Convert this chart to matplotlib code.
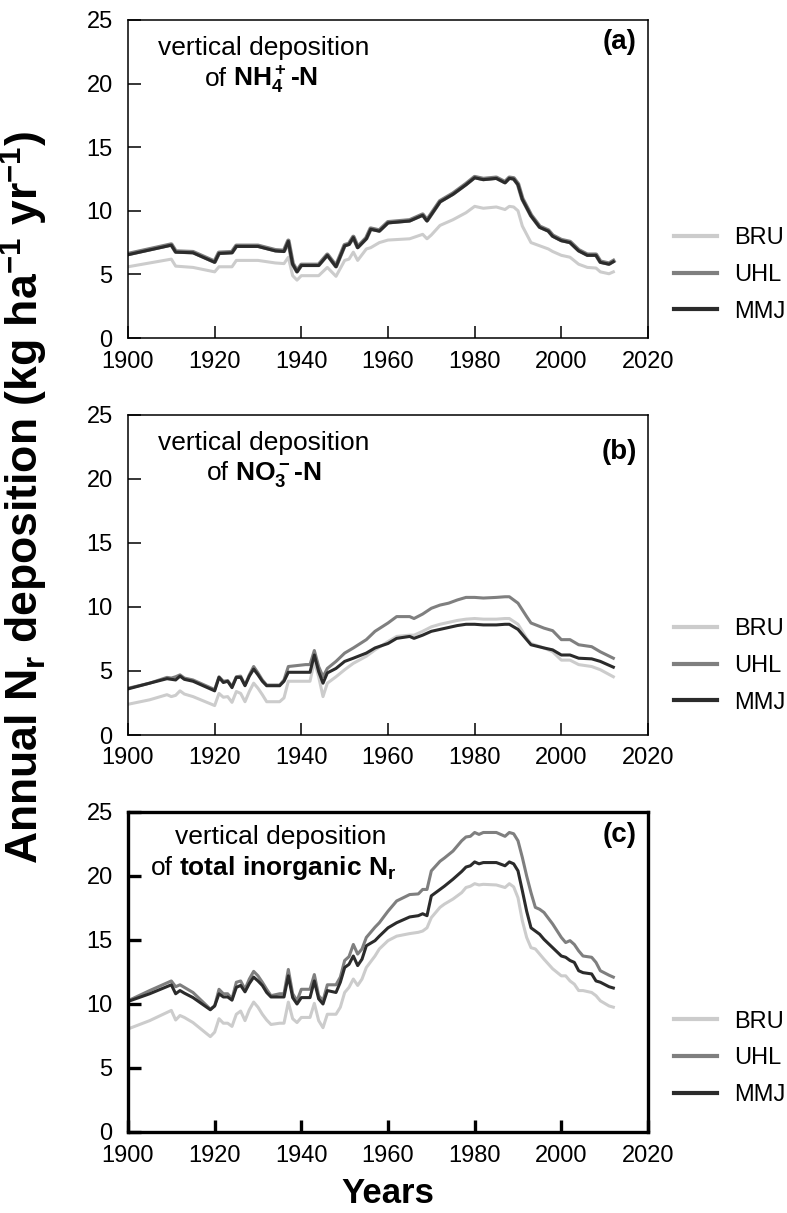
import matplotlib
matplotlib.use("Agg")
import matplotlib.pyplot as plt
import matplotlib.transforms as mtransforms

plt.rcParams['font.family'] = ['Liberation Sans', 'DejaVu Sans']
plt.rcParams['mathtext.default'] = 'regular'

# ---------------- data ----------------
series_names = ["BRU", "UHL", "MMJ"]
colors = ["#cccccc", "#7f7f7f", "#2b2b2b"]

years_a = [1900, 1910, 1911, 1915, 1920, 1921, 1924, 1925, 1930, 1934, 1936, 1937, 1938, 1939, 1940,
           1944, 1946, 1948, 1950, 1951, 1952, 1953, 1955, 1956, 1958, 1960, 1965, 1968, 1969, 1970,
           1972, 1975, 1978, 1980, 1982, 1985, 1987, 1988, 1989, 1990, 1991, 1993, 1995, 1997, 1998,
           2000, 2002, 2004, 2006, 2008, 2009, 2011, 2012]
mmj_a = [6.55, 7.3, 6.75, 6.7, 5.95, 6.65, 6.7, 7.2, 7.2, 6.85, 6.8, 7.6, 5.8, 5.2, 5.7,
         5.7, 6.5, 5.6, 7.25, 7.35, 7.9, 7.1, 7.8, 8.55, 8.4, 9.05, 9.2, 9.65, 9.2, 9.7,
         10.7, 11.3, 12.05, 12.6, 12.45, 12.55, 12.2, 12.55, 12.5, 12.05, 10.9, 9.6, 8.7, 8.4, 8.0,
         7.65, 7.5, 6.85, 6.5, 6.5, 5.95, 5.8, 6.0]
uhl_a = [6.6, 7.35, 6.8, 6.75, 6.0, 6.7, 6.75, 7.25, 7.25, 6.9, 6.85, 7.65, 5.85, 5.25, 5.75,
         5.75, 6.55, 5.65, 7.3, 7.4, 7.95, 7.15, 7.85, 8.6, 8.45, 9.1, 9.25, 9.7, 9.25, 9.75,
         10.75, 11.35, 12.1, 12.65, 12.5, 12.6, 12.25, 12.6, 12.55, 12.1, 10.95, 9.65, 8.75, 8.45, 8.05,
         7.7, 7.55, 6.9, 6.55, 6.55, 6.0, 5.85, 6.05]
bru_a = [5.6, 6.2, 5.65, 5.55, 5.2, 5.6, 5.6, 6.1, 6.1, 5.9, 5.85, 6.35, 4.9, 4.55, 4.9,
         4.9, 5.55, 4.85, 6.1, 6.2, 6.75, 6.1, 7.0, 7.1, 7.5, 7.7, 7.8, 8.15, 7.8, 8.1,
         8.85, 9.3, 9.85, 10.35, 10.2, 10.3, 10.1, 10.35, 10.3, 10.0, 8.8, 7.5, 7.25, 7.0, 6.8,
         6.5, 6.35, 5.8, 5.55, 5.5, 5.2, 5.05, 5.2]

years_b = [1900, 1905, 1909, 1910, 1911, 1912, 1913, 1915, 1920, 1921, 1922, 1923, 1924, 1925, 1926,
           1927, 1928, 1929, 1930, 1931, 1932, 1935, 1936, 1937, 1941, 1942, 1943, 1944, 1945, 1946,
           1948, 1950, 1952, 1955, 1957, 1960, 1962, 1965, 1966, 1968, 1970, 1972, 1974, 1976, 1978,
           1980, 1982, 1985, 1987, 1988, 1990, 1992, 1993, 1996, 1998, 2000, 2002, 2004, 2007, 2009,
           2012]
uhl_b = [3.65, 4.05, 4.5, 4.45, 4.55, 4.7, 4.45, 4.3, 3.55, 4.55, 4.2, 4.25, 3.8, 4.55, 4.6,
         3.9, 4.7, 5.35, 4.85, 4.3, 3.9, 3.9, 4.3, 5.35, 5.5, 5.5, 6.6, 5.35, 4.55, 5.2,
         5.75, 6.4, 6.8, 7.45, 8.1, 8.75, 9.25, 9.25, 9.1, 9.45, 9.9, 10.15, 10.3, 10.55, 10.75,
         10.75, 10.7, 10.75, 10.8, 10.8, 10.3, 9.25, 8.75, 8.35, 8.15, 7.45, 7.45, 7.05, 6.9, 6.5,
         6.0]
mmj_b = [3.6, 4.05, 4.4, 4.35, 4.3, 4.6, 4.35, 4.2, 3.45, 4.5, 4.1, 4.2, 3.7, 4.5, 4.5,
         3.85, 4.6, 5.15, 4.7, 4.2, 3.85, 3.85, 4.2, 4.9, 4.9, 4.9, 6.25, 4.95, 4.05, 4.85,
         5.2, 5.75, 6.0, 6.4, 6.8, 7.15, 7.55, 7.7, 7.55, 7.8, 8.1, 8.25, 8.4, 8.55, 8.65,
         8.65, 8.6, 8.6, 8.65, 8.65, 8.25, 7.45, 7.05, 6.8, 6.65, 6.25, 6.25, 6.0, 5.95, 5.75,
         5.3]
bru_b = [2.4, 2.75, 3.15, 3.0, 3.1, 3.45, 3.2, 3.0, 2.3, 3.25, 2.95, 3.0, 2.55, 3.4, 3.25,
         2.6, 3.4, 4.05, 3.65, 3.15, 2.6, 2.6, 2.9, 4.2, 4.2, 4.2, 5.75, 4.55, 3.0, 4.05,
         4.55, 5.1, 5.6, 6.15, 6.65, 7.3, 7.7, 7.8, 7.8, 8.1, 8.45, 8.65, 8.8, 8.95, 9.05,
         9.1, 9.05, 9.05, 9.1, 9.1, 8.65, 7.55, 7.15, 6.8, 6.5, 5.85, 5.85, 5.5, 5.35, 5.1,
         4.55]

years_c = [1900, 1905, 1910, 1911, 1912, 1913, 1915, 1919, 1920, 1921, 1922, 1923, 1924, 1925, 1926,
           1927, 1928, 1929, 1930, 1931, 1932, 1933, 1935, 1936, 1937, 1938, 1939, 1940, 1942, 1943,
           1944, 1945, 1946, 1948, 1949, 1950, 1951, 1952, 1953, 1954, 1955, 1957, 1958, 1960, 1962,
           1965, 1967, 1968, 1969, 1970, 1972, 1973, 1975, 1977, 1978, 1979, 1980, 1981, 1982, 1985,
           1987, 1988, 1989, 1990, 1991, 1992, 1993, 1994, 1995, 1996, 1998, 2000, 2001, 2002, 2003,
           2004, 2005, 2007, 2008, 2009, 2011, 2012]
uhl_c = [10.25, 11.05, 11.8, 11.35, 11.5, 11.3, 10.9, 9.6, 9.85, 11.15, 10.8, 10.8, 10.4, 11.7, 11.8,
         11.15, 11.95, 12.55, 12.2, 11.7, 11.15, 10.65, 10.8, 10.8, 12.7, 10.8, 10.25, 11.15, 11.15, 12.3,
         10.65, 10.25, 11.5, 11.5, 12.1, 13.4, 13.7, 14.65, 13.9, 14.3, 15.2, 16.0, 16.35, 17.25, 18.05,
         18.55, 18.6, 18.95, 18.95, 20.4, 21.15, 21.4, 21.95, 22.75, 23.05, 23.1, 23.4, 23.25, 23.4, 23.4,
         23.1, 23.4, 23.3, 22.75, 21.45, 20.0, 18.7, 17.55, 17.4, 17.15, 16.25, 15.2, 14.8, 14.95, 14.65,
         14.15, 13.75, 13.65, 13.25, 12.6, 12.25, 12.1]
mmj_c = [10.2, 10.8, 11.5, 10.8, 11.05, 10.85, 10.5, 9.55, 9.85, 10.8, 10.55, 10.55, 10.3, 11.3, 11.45,
         10.95, 11.6, 12.1, 11.8, 11.45, 10.9, 10.55, 10.55, 10.55, 12.2, 10.5, 10.0, 10.5, 10.5, 11.8,
         10.4, 10.0, 11.05, 10.9, 11.7, 12.85, 13.1, 13.75, 13.0, 13.5, 14.55, 14.95, 15.3, 15.95, 16.35,
         16.8, 16.9, 17.05, 16.9, 18.45, 18.95, 19.2, 19.75, 20.35, 20.7, 20.8, 21.1, 20.95, 21.05, 21.05,
         20.8, 21.1, 20.95, 20.4, 18.85, 17.25, 15.95, 15.7, 15.45, 15.05, 14.4, 13.75, 13.65, 13.4, 13.25,
         12.6, 12.45, 12.35, 11.8, 11.7, 11.35, 11.25]
bru_c = [8.05, 8.7, 9.5, 8.75, 9.1, 8.95, 8.55, 7.45, 7.8, 8.85, 8.5, 8.5, 8.25, 9.2, 9.45,
         8.7, 9.55, 10.15, 9.75, 9.2, 8.75, 8.4, 8.5, 8.5, 10.15, 8.85, 8.55, 8.95, 8.95, 10.05,
         8.7, 8.15, 9.2, 9.2, 9.75, 10.9, 11.3, 11.95, 11.45, 11.95, 12.85, 13.75, 14.3, 14.95, 15.3,
         15.5, 15.6, 15.7, 15.95, 16.75, 17.55, 17.8, 18.2, 18.7, 19.1, 19.2, 19.4, 19.3, 19.35, 19.3,
         19.1, 19.4, 19.15, 18.3, 16.5, 15.2, 14.4, 14.3, 13.9, 13.5, 12.75, 12.2, 12.2, 11.8, 11.55,
         11.05, 11.05, 10.9, 10.65, 10.25, 9.85, 9.75]

x_ticks = [1900, 1920, 1940, 1960, 1980, 2000, 2020]
y_ticks = [0, 5, 10, 15, 20, 25]
panel_tags = ["(a)", "(b)", "(c)"]
line1 = "vertical deposition"
line2_bold = ["NH$_4^+$-N", "NO$_3^-$-N", "total inorganic N$_r$"]
y_label = "Annual N$_r$ deposition (kg ha$^{-1}$ yr$^{-1}$)"
x_label = "Years"

# ---------------- figure ----------------
W, H = 787, 1213
fig = plt.figure(figsize=(W / 100, H / 100), dpi=100)

def frac_rect(left, top, right, bottom):
    return [left / W, 1 - bottom / H, (right - left) / W, (bottom - top) / H]

rects = [frac_rect(128, 20, 648, 338), frac_rect(128, 415, 648, 735), frac_rect(128, 812, 648, 1132)]
data = [(years_a, bru_a, uhl_a, mmj_a), (years_b, bru_b, uhl_b, mmj_b), (years_c, bru_c, uhl_c, mmj_c)]
spine_w = [1.1, 1.1, 2.4]
line1_x = [0.2615, 0.2615, 0.293]
line1_y = [0.89, 0.892, 0.90]
line2_x = [0.148, 0.152, 0.044]
line2_y = [0.7925, 0.797, 0.803]
tag_y = [0.972, 0.925, 0.968]
leg_y = [0.198, 0.216, 0.23]

axes = []
for i in range(3):
    ax = fig.add_axes(rects[i])
    yrs, bru, uhl, mmj = data[i]
    lw_uhl = 3.2 if i == 0 else 2.2
    h1, = ax.plot(yrs, bru, color=colors[0], lw=2.2, label=series_names[0], solid_joinstyle='round')
    h2, = ax.plot(yrs, uhl, color=colors[1], lw=lw_uhl, label=series_names[1], solid_joinstyle='round')
    h3, = ax.plot(yrs, mmj, color=colors[2], lw=2.2, label=series_names[2], solid_joinstyle='round')
    ax.set_xlim(1900, 2020)
    ax.set_ylim(0, 25)
    ax.set_xticks(x_ticks)
    ax.set_yticks(y_ticks)
    ax.tick_params(direction='in', length=9, width=spine_w[i], labelsize=17,
                   top=False, right=False)
    ax.tick_params(axis='y', pad=11)
    ax.tick_params(axis='x', pad=9)
    for s in ax.spines.values():
        s.set_linewidth(spine_w[i])
    ax.text(line1_x[i], line1_y[i], line1, transform=ax.transAxes, ha='center', va='baseline',
            fontsize=19)
    t_of = ax.text(line2_x[i], line2_y[i], "of", transform=ax.transAxes, ha='left', va='baseline',
                   fontsize=19)
    ax.text(0.978, tag_y[i], panel_tags[i], transform=ax.transAxes, ha='right', va='top',
            fontsize=20, fontweight='bold')
    leg = ax.legend(handles=[h1, h2, h3], loc='center left', bbox_to_anchor=(1.05, leg_y[i]),
                    frameon=False, fontsize=17, handlelength=1.8, handletextpad=0.75,
                    labelspacing=0.62, borderaxespad=0, borderpad=0)
    for lh in leg.get_lines():
        lh.set_linewidth(3.0)
    axes.append((ax, t_of))

fig.canvas.draw()
renderer = fig.canvas.get_renderer()
for i, (ax, t_of) in enumerate(axes):
    bb = t_of.get_window_extent(renderer)
    tr = mtransforms.offset_copy(ax.transAxes, fig=fig, x=bb.width + 6, units='dots')
    ax.text(line2_x[i], line2_y[i], line2_bold[i], transform=tr, ha='left', va='baseline',
            fontsize=19, fontweight='bold')

fig.text(0.031, 0.59, y_label, rotation=90, ha='center', va='center',
         fontsize=32, fontweight='bold')
fig.text(388 / W, 1 - 1203 / H, x_label, ha='center', va='baseline',
         fontsize=25, fontweight='bold')

fig.savefig("out.png", dpi=100)
